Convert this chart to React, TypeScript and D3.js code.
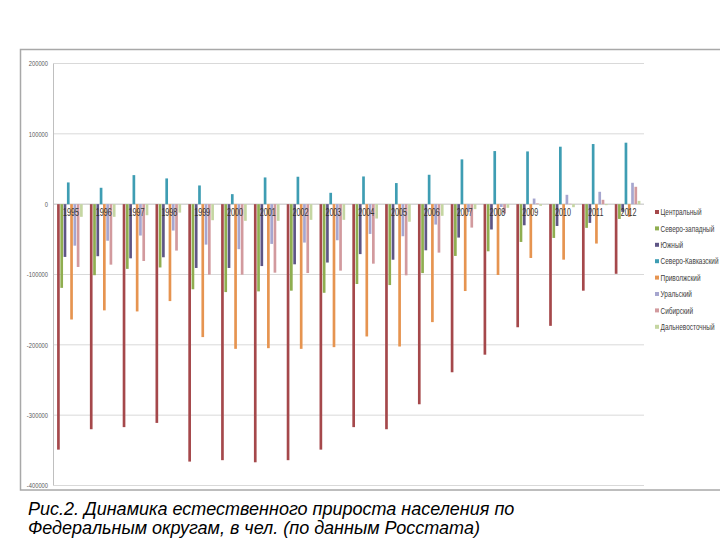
import React from "react";
import * as d3 from "d3";

const years = ["1995","1996","1997","1998","1999","2000","2001","2002","2003","2004","2005","2006","2007","2008","2009","2010","2011","2012"];
const seriesNames = ["Центральный","Северо-западный","Южный","Северо-Кавказский","Приволжский","Уральский","Сибирский","Дальневосточный"];
const central = [-349000,-320000,-317000,-311000,-366000,-364000,-367000,-364000,-349000,-317000,-320000,-284500,-239000,-214000,-175000,-173000,-123000,-99000];
const northWest = [-119000,-101000,-92000,-90000,-121000,-125000,-124000,-123000,-126000,-113500,-115000,-98000,-73600,-67000,-53700,-48000,-33700,-21000];
const south = [-75000,-74000,-77000,-75500,-90700,-90700,-88000,-85500,-83000,-71000,-79000,-65600,-47500,-36000,-30000,-31000,-26600,-11000];
const northCaucasus = [30900,23300,41300,36600,26600,14250,38000,39000,16150,39400,30000,41800,63700,75500,75000,81700,85500,87400];
const volga = [-164000,-151000,-152500,-137800,-189000,-205700,-204750,-205700,-203300,-188100,-202400,-167700,-123500,-100700,-76500,-78900,-56000,-18000];
const ural = [-59000,-52000,-44600,-37500,-57500,-64000,-56500,-54600,-51300,-42300,-45600,-29000,-11000,-4000,8000,13300,17600,30400];
const siberia = [-89300,-86000,-80800,-66000,-100200,-100200,-97400,-97900,-94500,-84600,-101200,-68900,-33300,-13300,1000,500,6200,24700];
const farEast = [-18000,-18000,-15700,-12000,-22800,-23700,-23700,-22300,-22300,-20400,-25000,-16600,-7100,-5200,-2400,-4300,-1400,4700];
const yTicks = [200000,100000,0,-100000,-200000,-300000,-400000];

const seriesValues = [central, northWest, south, northCaucasus, volga, ural, siberia, farEast];
const colors = ["#A5484B","#8FAE50","#5E5585","#3E9DB3","#E69450","#A6A6CF","#D29A9E","#C5D6A2"];

const font = "'Liberation Sans', Arial, sans-serif";

function Narrow(props: { x: number; y: number; sx: number; size: number; anchor?: string; fill?: string; children: any }) {
  return (
    <text
      transform={`translate(${props.x},${props.y}) scale(${props.sx},1)`}
      textAnchor={props.anchor || "start"}
      dy="0.35em"
      fontSize={props.size}
      fill={props.fill || "#404040"}
      fontFamily={font}
    >
      {props.children}
    </text>
  );
}

export default function App() {
  const W = 720, H = 540;
  const left = 53.5, right = 644, top = 63.5, bottom = 485.5;
  const x0 = d3.scaleBand<string>().domain(years).range([left, right]).paddingInner(0.2).paddingOuter(0.1);
  const x1 = d3.scaleBand<string>().domain(seriesNames).range([0, x0.bandwidth()]).padding(0);
  const y = d3.scaleLinear().domain([-400000, 200000]).range([bottom, top]);
  const legendY0 = 212, legendStep = 16.4;
  const fmt = (t: number) => (t < 0 ? "-" + String(-t) : String(t));

  return (
    <svg width={W} height={H} style={{ position: "absolute", left: 0, top: 0, background: "#fff" }}>
      <rect x={20.5} y={49.5} width={720} height={440.5} fill="none" stroke="#A8A8A8" strokeWidth={1.5} />
      {yTicks.map((t) => (
        <g key={t}>
          <line x1={left} x2={right} y1={y(t)} y2={y(t)} stroke={t === 0 ? "#BFBFBF" : "#D9D9D9"} strokeWidth={1} />
          <Narrow x={48} y={y(t)} sx={0.72} size={8} anchor="end" fill="#595959">{fmt(t)}</Narrow>
        </g>
      ))}
      <line x1={left} x2={left} y1={top} y2={bottom} stroke="#BFBFBF" strokeWidth={1} />
      {years.map((yr, i) => (
        <g key={yr} transform={`translate(${x0(yr)},0)`}>
          {seriesNames.map((s, j) => {
            const v = seriesValues[j][i];
            const y1 = y(Math.max(0, v));
            const y2 = y(Math.min(0, v));
            return (
              <rect key={s} x={(x1(s) as number) + 0.3} width={x1.bandwidth() - 0.6} y={y1} height={Math.max(0, y2 - y1)} fill={colors[j]} />
            );
          })}
        </g>
      ))}
      {years.map((yr) => (
        <Narrow key={yr} x={(x0(yr) as number) + x0.bandwidth() / 2 + 1} y={212} sx={0.68} size={10.5} anchor="middle" fill="#333">{yr}</Narrow>
      ))}
      {seriesNames.map((s, j) => (
        <g key={s}>
          <rect x={655} y={legendY0 + j * legendStep - 2} width={4} height={4} fill={colors[j]} />
          <Narrow x={660.5} y={legendY0 + j * legendStep} sx={0.72} size={9} fill="#404040">{s}</Narrow>
        </g>
      ))}
      <text x={28} y={514.5} fontSize={18} fontStyle="italic" fill="#000" fontFamily={font}>Рис.2. Динамика естественного прироста населения по</text>
      <text x={28} y={534} fontSize={18} fontStyle="italic" fill="#000" fontFamily={font}>Федеральным округам, в чел. (по данным Росстата)</text>
    </svg>
  );
}
